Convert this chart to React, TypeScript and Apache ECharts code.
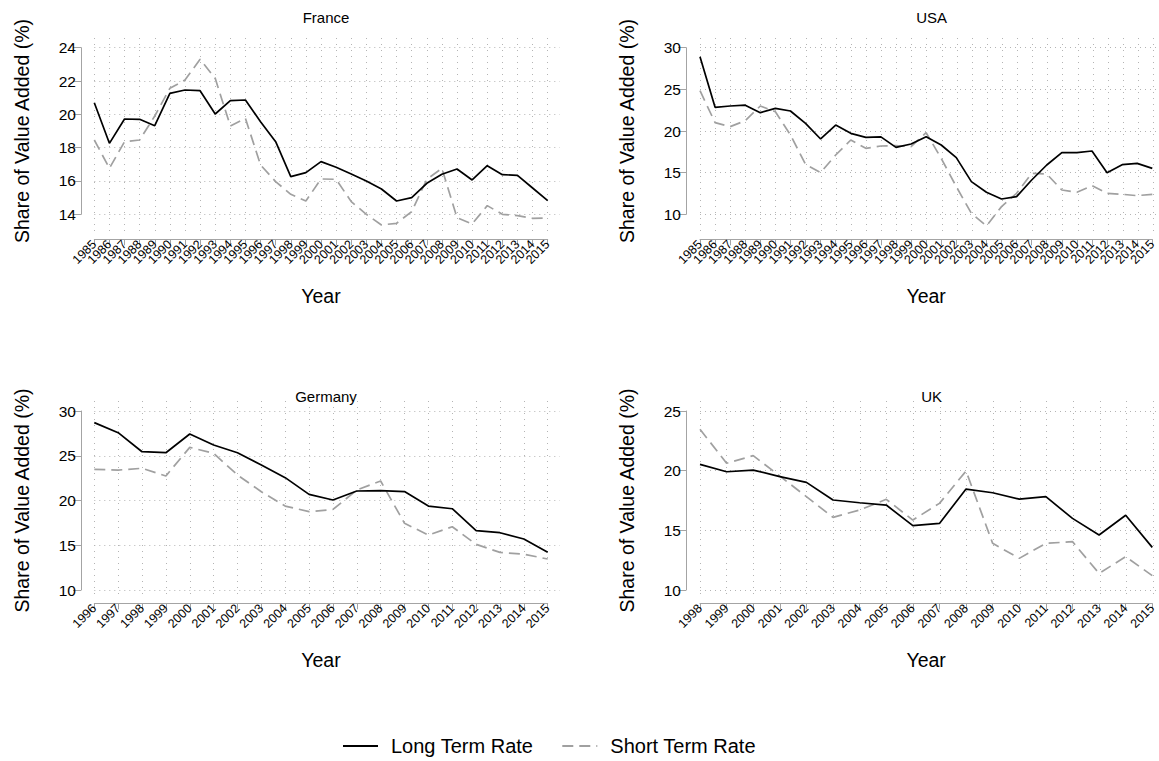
import React, { useEffect, useRef } from "react";
import * as echarts from "echarts";

// ---------- data ----------
const yearsFrance = [1985, 1986, 1987, 1988, 1989, 1990, 1991, 1992, 1993, 1994, 1995, 1996, 1997, 1998, 1999, 2000, 2001, 2002, 2003, 2004, 2005, 2006, 2007, 2008, 2009, 2010, 2011, 2012, 2013, 2014, 2015];
const franceLong = [20.7, 18.26, 19.72, 19.7, 19.32, 21.26, 21.46, 21.42, 20.02, 20.82, 20.86, 19.56, 18.36, 16.26, 16.5, 17.16, 16.82, 16.42, 16.0, 15.52, 14.8, 15.0, 15.86, 16.4, 16.72, 16.06, 16.92, 16.38, 16.34, 15.58, 14.82];
const franceShort = [18.46, 16.76, 18.36, 18.46, 19.9, 21.56, 22.06, 23.3, 22.16, 19.3, 19.76, 16.96, 15.96, 15.2, 14.8, 16.12, 16.1, 14.76, 14.0, 13.36, 13.46, 14.16, 16.1, 16.76, 13.8, 13.42, 14.52, 14.0, 13.92, 13.76, 13.78];

const yearsUSA = [1985, 1986, 1987, 1988, 1989, 1990, 1991, 1992, 1993, 1994, 1995, 1996, 1997, 1998, 1999, 2000, 2001, 2002, 2003, 2004, 2005, 2006, 2007, 2008, 2009, 2010, 2011, 2012, 2013, 2014, 2015];
const usaLong = [28.92, 22.84, 23.0, 23.1, 22.2, 22.72, 22.4, 20.92, 19.04, 20.72, 19.72, 19.24, 19.3, 18.04, 18.44, 19.32, 18.32, 16.8, 13.92, 12.64, 11.84, 12.12, 14.12, 15.92, 17.4, 17.4, 17.6, 15.0, 15.96, 16.12, 15.52];
const usaShort = [24.84, 21.0, 20.52, 21.24, 23.0, 22.32, 19.52, 16.0, 15.0, 17.12, 18.92, 17.92, 18.2, 18.24, 18.12, 19.8, 16.72, 13.32, 10.12, 8.6, 10.92, 12.52, 14.92, 14.84, 12.92, 12.64, 13.44, 12.52, 12.4, 12.24, 12.4];

const yearsGermany = [1996, 1997, 1998, 1999, 2000, 2001, 2002, 2003, 2004, 2005, 2006, 2007, 2008, 2009, 2010, 2011, 2012, 2013, 2014, 2015];
const germanyLong = [28.7, 27.58, 25.45, 25.34, 27.43, 26.2, 25.34, 23.97, 22.55, 20.69, 20.06, 21.06, 21.1, 21.0, 19.38, 19.08, 16.63, 16.4, 15.7, 14.21];
const germanyShort = [23.48, 23.4, 23.6, 22.74, 25.94, 25.27, 22.85, 20.98, 19.38, 18.75, 19.0, 21.17, 22.18, 17.45, 16.14, 17.07, 15.1, 14.2, 14.0, 13.46];

const yearsUK = [1998, 1999, 2000, 2001, 2002, 2003, 2004, 2005, 2006, 2007, 2008, 2009, 2010, 2011, 2012, 2013, 2014, 2015];
const ukLong = [20.53, 19.91, 20.05, 19.5, 19.02, 17.54, 17.31, 17.12, 15.39, 15.58, 18.46, 18.15, 17.62, 17.82, 16.0, 14.61, 16.26, 13.57];
const ukShort = [23.47, 20.62, 21.26, 19.55, 17.82, 16.09, 16.7, 17.6, 15.86, 17.26, 19.97, 13.91, 12.65, 13.91, 14.05, 11.39, 12.79, 11.2];

const seriesNames = ["Long Term Rate", "Short Term Rate"];
const panelTitles = ["France", "USA", "Germany", "UK"];
const yTicks = [
  { min: 14, max: 24, interval: 2 },
  { min: 10, max: 30, interval: 5 },
  { min: 10, max: 30, interval: 5 },
  { min: 10, max: 25, interval: 5 },
];

// ---------- layout ----------
const FONT = "Liberation Sans, Arial, Helvetica, sans-serif";
const AXIS_GRAY = "#a4a4a4";
const GRID_GRAY = "#b4b4b4";

const panels = [
  { years: yearsFrance, long: franceLong, short: franceShort, plotL: 94.3, plotR: 547.7, tickTop: 47.7, tickBot: 214.3, regTop: 38, regBot: 233, axisY: 239.3, axisX: 81, titleTop: 5 },
  { years: yearsUSA, long: usaLong, short: usaShort, plotL: 700, plotR: 1153.3, tickTop: 47.7, tickBot: 214.3, regTop: 38, regBot: 233, axisY: 239.3, axisX: 686, titleTop: 5 },
  { years: yearsGermany, long: germanyLong, short: germanyShort, plotL: 94.3, plotR: 547.7, tickTop: 411, tickBot: 590, regTop: 401, regBot: 597, axisY: 603.3, axisX: 81, titleTop: 384 },
  { years: yearsUK, long: ukLong, short: ukShort, plotL: 700, plotR: 1153.3, tickTop: 411, tickBot: 590, regTop: 401, regBot: 597, axisY: 603.3, axisX: 686, titleTop: 384 },
];

function buildOption() {
  const grid: any[] = [];
  const xAxis: any[] = [];
  const yAxis: any[] = [];
  const series: any[] = [];
  const title: any[] = [];

  panels.forEach((p, i) => {
    const t = yTicks[i];
    const cats = p.years.map((y) => String(y));
    const w = p.plotR - p.plotL;
    const base = i * 3;

    title.push({
      text: panelTitles[i],
      left: (p.plotL + p.plotR) / 2,
      top: p.titleTop,
      textAlign: "center",
      textStyle: { fontFamily: FONT, fontSize: 15, fontWeight: "normal", color: "#000" },
    });

    grid.push({ left: p.plotL, top: p.tickTop, width: w, height: p.tickBot - p.tickTop, containLabel: false });
    grid.push({ left: p.plotL, top: p.regTop, width: w, height: p.regBot - p.regTop, containLabel: false });
    grid.push({ left: p.plotL, top: p.tickTop, width: w + 12, height: p.tickBot - p.tickTop, containLabel: false });

    xAxis.push({
      type: "category",
      data: cats,
      boundaryGap: false,
      gridIndex: base,
      offset: p.axisY - p.tickBot,
      axisLine: { show: true, lineStyle: { color: AXIS_GRAY, width: 1 } },
      axisTick: { show: true, interval: 0, length: 6, lineStyle: { color: AXIS_GRAY } },
      axisLabel: {
        show: true,
        interval: 0,
        rotate: 45,
        fontSize: 12.5,
        margin: 3,
        color: "#000",
        fontFamily: FONT,
      },
      splitLine: { show: false },
      name: "Year",
      nameLocation: "middle",
      nameGap: 47,
      nameTextStyle: { fontFamily: FONT, fontSize: 19.5, color: "#000" },
    });
    xAxis.push({
      type: "category",
      data: cats,
      boundaryGap: false,
      gridIndex: base + 1,
      axisLine: { show: false },
      axisTick: { show: false },
      axisLabel: { show: false },
      splitLine: { show: true, interval: 0, lineStyle: { color: GRID_GRAY, width: 1, type: [1, 5] } },
    });
    xAxis.push({ type: "value", gridIndex: base + 2, show: false, min: 0, max: 1 });

    yAxis.push({
      type: "value",
      gridIndex: base,
      min: t.min,
      max: t.max,
      interval: t.interval,
      offset: p.plotL - p.axisX,
      axisLine: { show: true, lineStyle: { color: AXIS_GRAY, width: 1 } },
      axisTick: { show: true, length: 8, lineStyle: { color: AXIS_GRAY } },
      axisLabel: { show: true, fontSize: 15.5, margin: 5, color: "#000", fontFamily: FONT },
      splitLine: { show: false },
      name: "Share of Value Added (%)",
      nameLocation: "middle",
      nameGap: 49,
      nameTextStyle: { fontFamily: FONT, fontSize: 19.5, color: "#000" },
    });
    yAxis.push({ type: "value", gridIndex: base + 1, show: false, min: 0, max: 1 });
    yAxis.push({
      type: "value",
      gridIndex: base + 2,
      min: t.min,
      max: t.max,
      interval: t.interval,
      axisLine: { show: false },
      axisTick: { show: false },
      axisLabel: { show: false },
      splitLine: { show: true, lineStyle: { color: GRID_GRAY, width: 1, type: [1, 4] } },
    });

    series.push({
      name: seriesNames[0],
      type: "line",
      xAxisIndex: base,
      yAxisIndex: base,
      data: p.long,
      symbol: "none",
      clip: false,
      z: 4,
      lineStyle: { color: "#000", width: 1.7, type: "solid" },
      itemStyle: { color: "#000" },
    });
    series.push({
      name: seriesNames[1],
      type: "line",
      xAxisIndex: base,
      yAxisIndex: base,
      data: p.short,
      symbol: "none",
      clip: false,
      z: 3,
      lineStyle: { color: "#a0a0a0", width: 1.7, type: [11, 6] },
      itemStyle: { color: "#a0a0a0" },
    });
  });

  return {
    animation: false,
    backgroundColor: "#fff",
    title,
    legend: {
      data: seriesNames,
      left: 337,
      top: 731,
      itemWidth: 35,
      itemHeight: 14,
      itemGap: 28,
      itemStyle: { opacity: 0, color: "transparent", borderColor: "transparent", borderWidth: 0 },
      textStyle: { fontFamily: FONT, fontSize: 20, color: "#000", padding: [0, 0, 0, 8] },
      selectedMode: false,
    },
    grid,
    xAxis,
    yAxis,
    series,
  };
}

export default function App() {
  const ref = useRef<HTMLDivElement>(null);
  useEffect(() => {
    if (!ref.current) return;
    const chart = echarts.init(ref.current, undefined, { renderer: "svg" });
    chart.setOption(buildOption() as any);
    return () => chart.dispose();
  }, []);
  return (
    <div
      ref={ref}
      style={{ position: "absolute", left: 0, top: 0, width: 1159, height: 761, background: "#fff" }}
    />
  );
}
